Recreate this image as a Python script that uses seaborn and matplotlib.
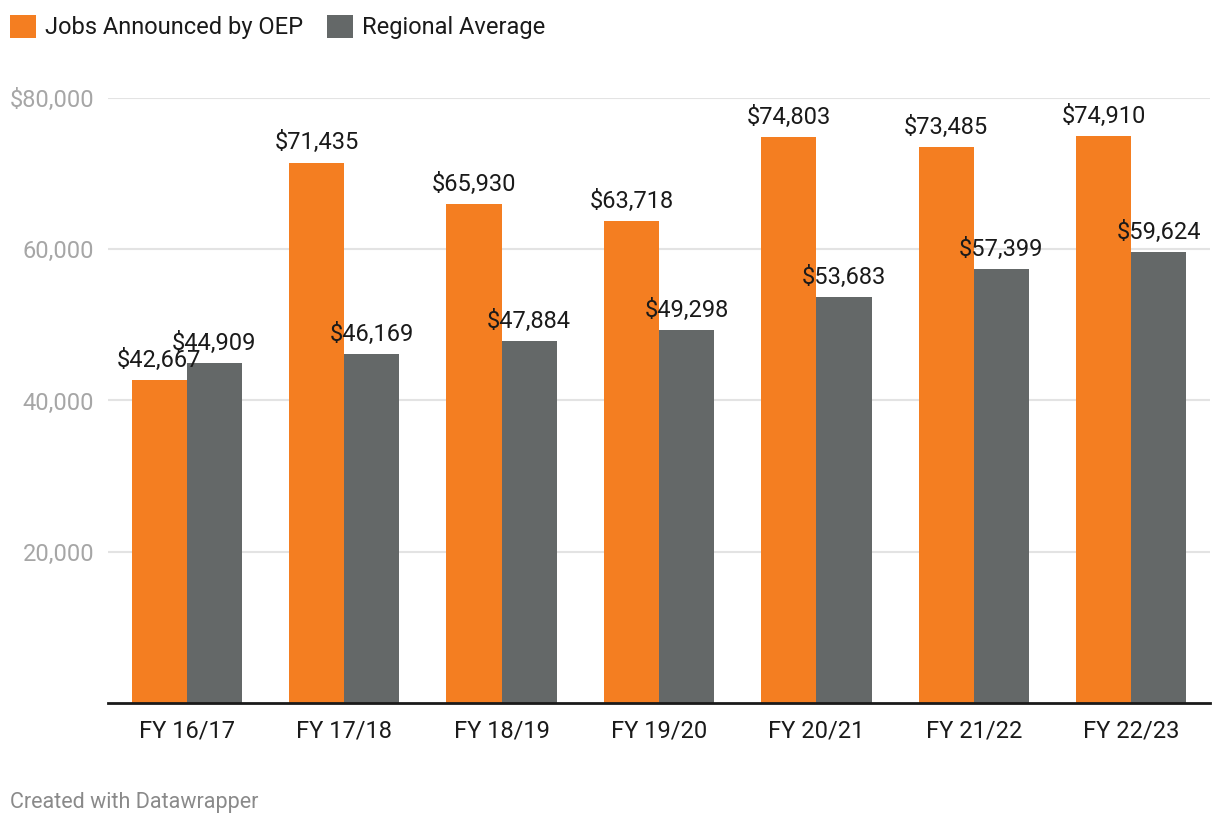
import pandas as pd
import matplotlib.pyplot as plt
import seaborn as sns
from matplotlib.patches import Patch

years = ['FY 16/17', 'FY 17/18', 'FY 18/19', 'FY 19/20', 'FY 20/21', 'FY 21/22', 'FY 22/23']
oep = [42667, 71435, 65930, 63718, 74803, 73485, 74910]
regional = [44909, 46169, 47884, 49298, 53683, 57399, 59624]
series = ['Jobs Announced by OEP', 'Regional Average']
colors = {'Jobs Announced by OEP': '#F47E21', 'Regional Average': '#646868'}

df = pd.DataFrame({
    'year': years * 2,
    'salary': oep + regional,
    'series': [series[0]] * len(years) + [series[1]] * len(years),
})

sns.set_style('white')
plt.rcParams['font.family'] = ['Roboto', 'DejaVu Sans']

fig = plt.figure(figsize=(12.2, 8.26), dpi=100)
ax = fig.add_axes([0.0885, 0.1489, 0.9033, 0.7325])

sns.barplot(data=df, x='year', y='salary', hue='series', palette=colors,
            width=0.7, gap=0, saturation=1, legend=False, linewidth=0, ax=ax)

for cont in ax.containers:
    ax.bar_label(cont, fmt='${:,.0f}', padding=6, fontsize=17, color='#1a1a1a', clip_on=False)

ax.set_ylim(0, 80000)
ax.set_xlim(-0.5, len(years) - 0.5)
ax.set_yticks([20000, 40000, 60000, 80000])
ax.set_yticklabels(['20,000', '40,000', '60,000', '$80,000'])
ax.yaxis.grid(True, color='#e3e3e3', linewidth=1.5)
ax.set_axisbelow(True)
ax.tick_params(axis='y', length=0, pad=10, labelsize=17, labelcolor='#a6a6a6')
ax.tick_params(axis='x', length=0, pad=12, labelsize=17, labelcolor='#1a1a1a')
ax.set_xlabel('')
ax.set_ylabel('')
for s in ['top', 'right', 'left']:
    ax.spines[s].set_visible(False)
ax.spines['bottom'].set_color('#1a1a1a')
ax.spines['bottom'].set_linewidth(2)

handles = [Patch(facecolor=colors[s], edgecolor='none', label=s) for s in series]
fig.legend(handles=handles, loc='upper left', bbox_to_anchor=(0.008, 0.982), ncol=2,
           frameon=False, fontsize=17, handlelength=1.1, handleheight=1.1,
           handletextpad=0.4, columnspacing=1.0, borderaxespad=0, borderpad=0,
           labelcolor='#1a1a1a')

fig.text(0.008, 0.029, 'Created with Datawrapper', fontsize=15.5, color='#8a8a8a', va='center')

fig.savefig('out.png', dpi=100)
